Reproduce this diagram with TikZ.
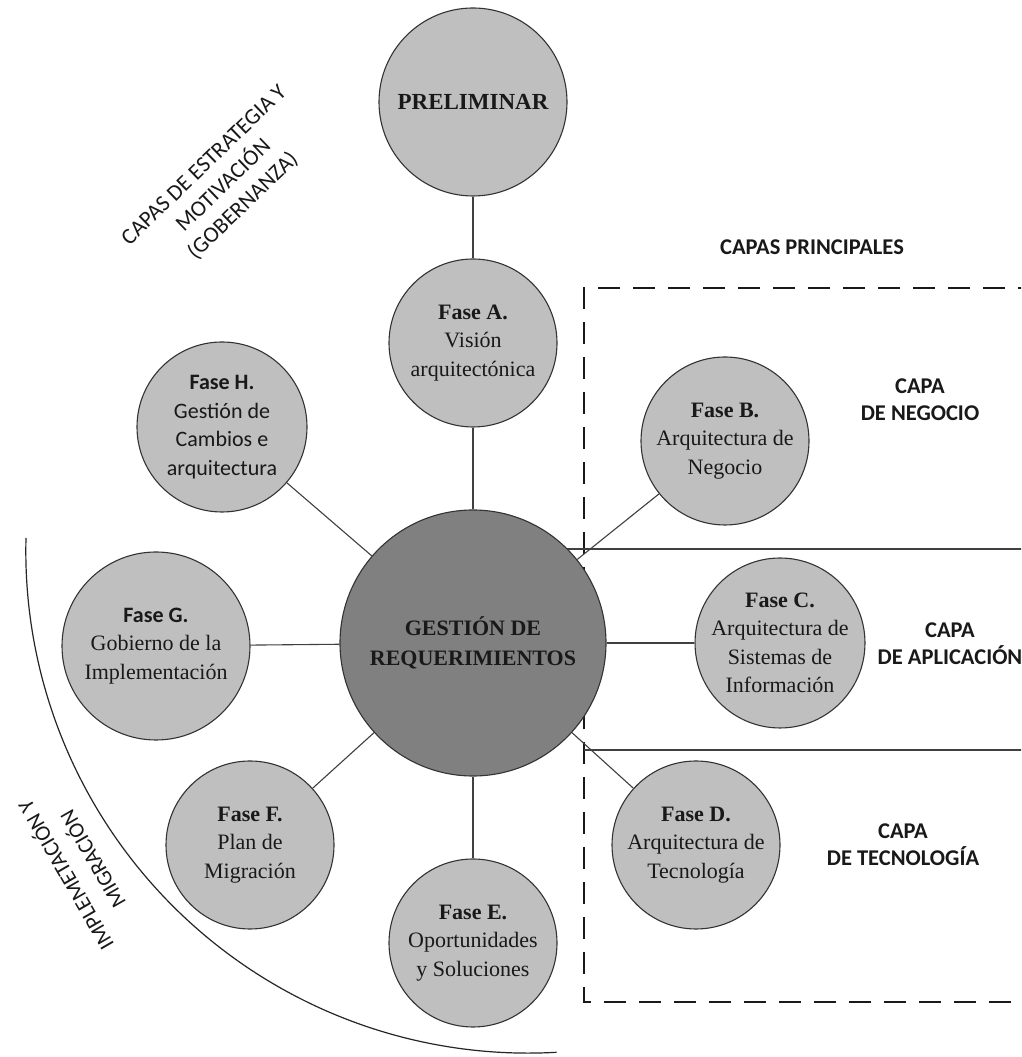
\documentclass[tikz,border=0pt]{standalone}
\usepackage{fontspec}
\setmainfont{Liberation Serif}
\newfontfamily\calibri{Carlito}

\tikzset{
  phase/.style={circle, draw=black!80, line width=1.1pt, fill=black!25,
    inner sep=0pt, align=center, text=black!90,
    font=\fontsize{22}{28.5}\selectfont},
  core/.style={phase, fill=black!50, font=\bfseries\fontsize{22}{30}\selectfont},
  link/.style={draw=black!75, line width=1.1pt},
  layerlbl/.style={font=\calibri\bfseries\fontsize{22.5}{27}\selectfont,
    align=center, text=black!90},
  arclbl/.style={font=\calibri\fontsize{22.5}{28}\selectfont, align=center,
    text=black!90},
  layerbox/.style={draw=black!90, line width=2.6pt, dash pattern=on 22pt off 13pt},
  layersep/.style={draw=black!75, line width=1.4pt},
}

\begin{document}
\begin{tikzpicture}[x=1pt, y=1pt]
  \clip (0,0) rectangle (1021,1057);
  \fill[white] (0,0) rectangle (1021,1057);

  % dashed frame around the main layers and the solid separators
  \draw[layerbox] (1040,769) -- (584,769) -- (584,55) -- (1040,55);
  \draw[layersep] (560,508) -- (1040,508);
  \draw[layersep] (584,307) -- (1040,307);

  % arc enclosing implementation and migration
  \draw[draw=black!85, line width=1.2pt]
    (26,519) arc[start angle=178.5, end angle=273.3, radius=502];

  % phases
  \node[core, minimum size=266pt] (GR) at (473,414) {GESTIÓN DE\\REQUERIMIENTOS};
  \node[phase, minimum size=188pt, font=\bfseries\fontsize{23}{28}\selectfont]
    (PRE) at (473,955) {PRELIMINAR};
  \node[phase, minimum size=168pt] (A) at (473,714)
    {\textbf{Fase A.}\\Visión\\arquitectónica};
  \node[phase, minimum size=168pt] (B) at (725,616)
    {\textbf{Fase B.}\\Arquitectura de\\Negocio};
  \node[phase, minimum size=168pt] (C) at (780,414)
    {\textbf{Fase C.}\\Arquitectura de\\Sistemas de\\Información};
  \node[phase, minimum size=168pt] (D) at (696,212)
    {\textbf{Fase D.}\\Arquitectura de\\Tecnología};
  \node[phase, minimum size=168pt] (E) at (473,114)
    {\textbf{Fase E.}\\Oportunidades\\y Soluciones};
  \node[phase, minimum size=168pt] (F) at (250,212)
    {\textbf{Fase F.}\\Plan de\\Migración};
  \node[phase, minimum size=188pt] (G) at (156,411)
    {{\calibri\bfseries Fase G.}\\Gobierno de la\\Implementación};
  \node[phase, minimum size=170pt, font=\calibri\fontsize{22}{28.5}\selectfont]
    (H) at (222,630) {\textbf{Fase H.}\\Gestión de\\Cambios e\\arquitectura};

  % connectors
  \draw[link] (PRE) -- (A);
  \foreach \p in {A,B,C,D,E,F,G,H} \draw[link] (\p) -- (GR);

  % layer labels
  \node[layerlbl] (lp) at (812,810) {CAPAS PRINCIPALES};
  \node[layerlbl] (ln) at (920,657) {CAPA\\DE NEGOCIO};
  \node[layerlbl] (la) at (950,413) {CAPA\\DE APLICACIÓN};
  \node[layerlbl] (lt) at (903,212) {CAPA\\DE TECNOLOGÍA};

  % rotated labels
  \node[arclbl, rotate=44] (ls) at (224,871)
    {CAPAS DE ESTRATEGIA Y\\MOTIVACIÓN\\(GOBERNANZA)};
  \node[arclbl, rotate=120, font=\calibri\fontsize{22}{31}\selectfont] (li) at (78,189)
    {IMPLEMETACIÓN Y\\MIGRACIÓN};
\end{tikzpicture}
\end{document}
